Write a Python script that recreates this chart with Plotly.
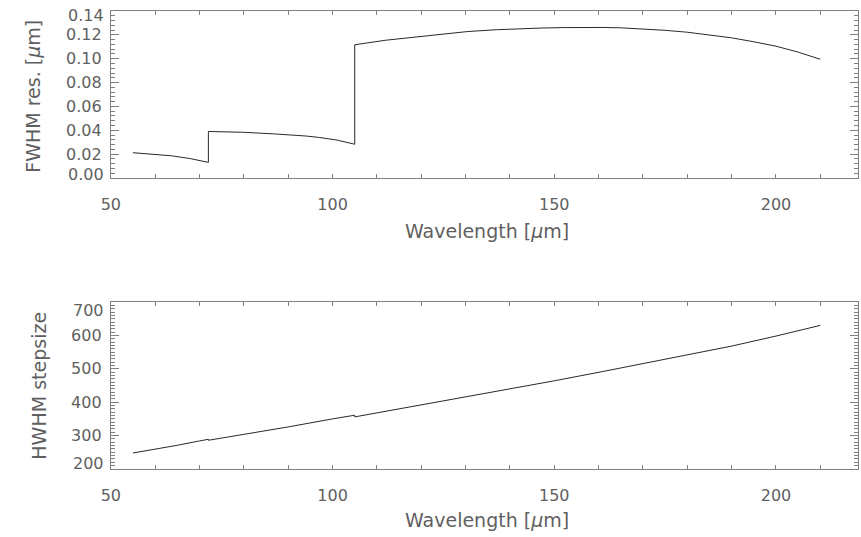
import plotly.graph_objects as go

# ---- data ----
wl_res = [55, 60, 63.7, 68, 72, 72, 80, 86.7, 90, 94, 97, 101, 105,
          105, 112, 119.3, 125, 130.5, 137, 143, 147, 152, 157, 161, 165,
          170, 175, 180, 185, 190, 195, 200, 205, 210]
fwhm_res = [0.0212, 0.0195, 0.0186, 0.0162, 0.0131, 0.0390, 0.0383, 0.0370,
            0.0364, 0.0352, 0.0340, 0.0318, 0.0283,
            0.1117, 0.1155, 0.1186, 0.1208, 0.1228, 0.1243, 0.1253, 0.1257,
            0.1261, 0.1263, 0.1262, 0.1259, 0.1250, 0.1238, 0.1222, 0.1200,
            0.1175, 0.1142, 0.1105, 0.1055, 0.0995]

wl_step = [55, 60, 65, 70, 72, 72, 80, 90, 100, 105, 105, 115, 125, 130.5,
           140, 150, 161, 170, 180, 190, 200, 210]
hwhm_step = [248, 259, 271, 284, 289, 286, 303, 326, 350, 361, 356, 380,
             404, 417, 439, 464, 492, 515, 541, 568, 598, 630]

res_ticks = [0.00, 0.02, 0.04, 0.06, 0.08, 0.10, 0.12, 0.14]
step_ticks = [200, 300, 400, 500, 600, 700]
x_ticks = [50, 100, 150, 200]

W, H = 861, 537
TXT = "#5f5f5f"
AX = "#808080"
LINE = "#2a2a2a"
FONT = "DejaVu Sans"
TICKF = dict(family=FONT, size=16, color=TXT)
TITF = dict(family=FONT, size=19, color=TXT)

xd = [102 / W, 858 / W]
top_dom = [1 - 178 / H, 1 - 11 / H]
bot_dom = [1 - 469 / H, 1 - 302 / H]

fig = go.Figure()
fig.add_trace(go.Scatter(x=wl_res, y=fwhm_res, mode="lines",
                         line=dict(color=LINE, width=1), xaxis="x", yaxis="y"))
fig.add_trace(go.Scatter(x=wl_step, y=hwhm_step, mode="lines",
                         line=dict(color=LINE, width=1), xaxis="x2", yaxis="y2"))

def xaxis(anchor):
    return dict(domain=xd, anchor=anchor, range=[50, 218.5],
                tickvals=x_ticks, ticks="inside", ticklen=4, tickcolor=AX,
                minor=dict(dtick=10, tick0=50, ticks="inside", ticklen=4, tickcolor=AX),
                showline=True, linecolor=AX, linewidth=1, mirror="ticks",
                showgrid=False, zeroline=False, tickfont=TICKF,
                ticklabelstandoff=12)

def yaxis(anchor, dom, rng, vals, minor_dt, fmt):
    txt = [fmt(v) for v in vals]
    txt[0] = ""
    txt[-1] = ""
    return dict(domain=dom, anchor=anchor, range=rng,
                tickvals=vals, ticktext=txt, ticks="inside", ticklen=8, tickcolor=AX,
                minor=dict(dtick=minor_dt, tick0=rng[0], ticks="inside", ticklen=4,
                           tickcolor=AX),
                showline=True, linecolor=AX, linewidth=1, mirror="ticks",
                showgrid=False, zeroline=False, tickfont=TICKF,
                ticklabelstandoff=5)

fmt_res = lambda v: f"{v:.2f}"
fmt_step = lambda v: f"{v:d}"

fig.update_layout(
    width=W, height=H,
    margin=dict(l=0, r=0, t=0, b=0),
    paper_bgcolor="white", plot_bgcolor="white",
    showlegend=False,
    xaxis=xaxis("y"),
    yaxis=yaxis("x", top_dom, [0, 0.14], res_ticks, 0.004, fmt_res),
    xaxis2=xaxis("y2"),
    yaxis2=yaxis("x2", bot_dom, [200, 700], step_ticks, 10, fmt_step),
)

ann = []
# end tick labels, nudged inward like the original
for yref, vals, fmt, shifts in [("y", res_ticks, fmt_res, (4, -4)),
                                 ("y2", step_ticks, fmt_step, (6, -8))]:
    ann.append(dict(xref="paper", x=xd[0], xanchor="right", xshift=-5,
                    yref=yref, y=vals[0], yanchor="middle", yshift=shifts[0],
                    text=fmt(vals[0]), showarrow=False, font=TICKF))
    ann.append(dict(xref="paper", x=xd[0], xanchor="right", xshift=-5,
                    yref=yref, y=vals[-1], yanchor="middle", yshift=shifts[1],
                    text=fmt(vals[-1]), showarrow=False, font=TICKF))

# axis titles
ann.append(dict(xref="paper", yref="paper", x=483 / W, y=1 - 231 / H,
                xanchor="center", yanchor="middle", showarrow=False,
                text="Wavelength [<i>μ</i>m]", font=TITF))
ann.append(dict(xref="paper", yref="paper", x=483 / W, y=1 - 520 / H,
                xanchor="center", yanchor="middle", showarrow=False,
                text="Wavelength [<i>μ</i>m]", font=TITF))
ann.append(dict(xref="paper", yref="paper", x=23 / W, y=1 - 96 / H,
                xanchor="center", yanchor="middle", showarrow=False, textangle=-90,
                text="FWHM res. [<i>μ</i>m]", font=TITF))
ann.append(dict(xref="paper", yref="paper", x=29 / W, y=1 - 386 / H,
                xanchor="center", yanchor="middle", showarrow=False, textangle=-90,
                text="HWHM stepsize", font=TITF))
fig.update_layout(annotations=ann)

fig.write_html("out.html")
